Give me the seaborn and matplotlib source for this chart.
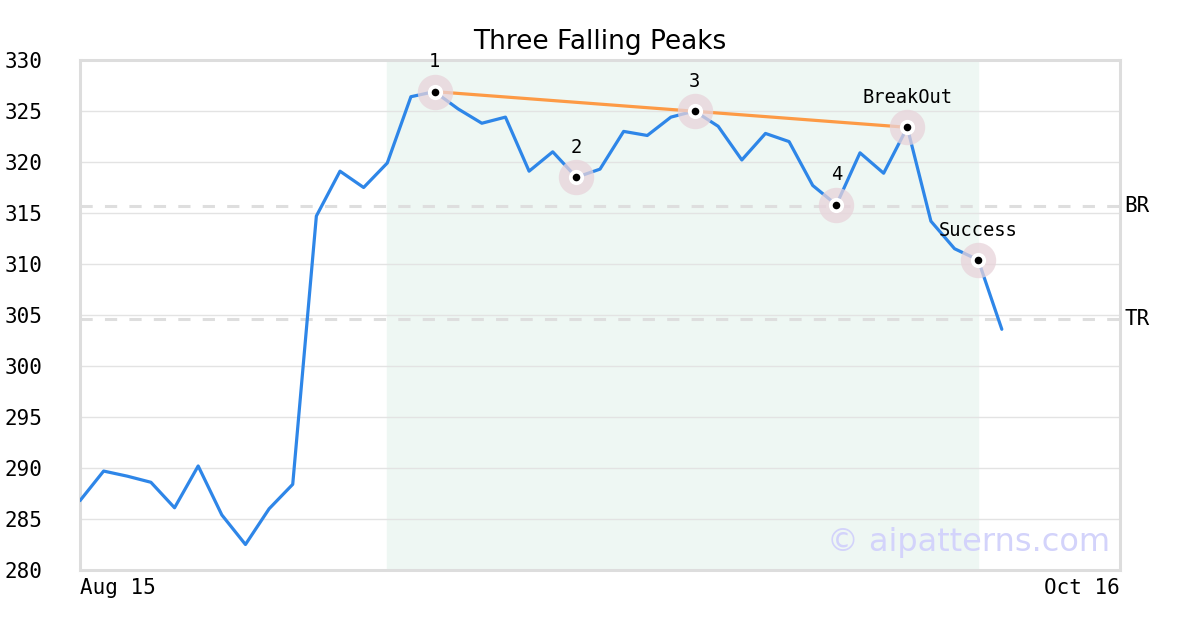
import seaborn as sns
import matplotlib.pyplot as plt
import pandas as pd

# closing prices, one per trading day (Aug 15 -> ...)
prices = [286.8, 289.7, 289.2, 288.6, 286.1, 290.2, 285.4, 282.5, 286.0, 288.4,
          314.7, 319.1, 317.5, 319.9, 326.4, 326.9, 325.2, 323.8, 324.4, 319.1,
          321.0, 318.5, 319.3, 323.0, 322.6, 324.4, 325.0, 323.5, 320.2, 322.8,
          322.0, 317.7, 315.8, 320.9, 318.9, 323.4, 314.2, 311.5, 310.4, 303.6]
days = list(range(len(prices)))

# pattern points
point_idx = [15, 21, 26, 32, 35, 38]
point_labels = ["1", "2", "3", "4", "BreakOut", "Success"]
peak_line_idx = [15, 35]

br_level = 315.7
tr_level = 304.6
zone_start, zone_end = 13, 38

x_ticks = [0, 44]
x_ticklabels = ["Aug 15", "Oct 16"]
y_ticks = [280, 285, 290, 295, 300, 305, 310, 315, 320, 325, 330]

df = pd.DataFrame({"day": days, "price": prices})
pts = df.iloc[point_idx].copy()
pts["label"] = point_labels
peak = df.iloc[peak_line_idx]

sns.set_theme(style="white")
plt.rcParams['font.family'] = ['DejaVu Sans']
plt.rcParams['text.color'] = 'black'
mono = 'DejaVu Sans Mono'

fig = plt.figure(figsize=(12, 6.3), dpi=100)
ax = fig.add_axes([80 / 1200, 60 / 630, 1040 / 1200, 510 / 630])

ax.axvspan(zone_start, zone_end, color="#eef7f3", zorder=0)
for y in y_ticks:
    ax.axhline(y, color="#e3e3e3", lw=1, zorder=1)
for lvl, name in [(br_level, "BR"), (tr_level, "TR")]:
    ax.axhline(lvl, color="#dedede", lw=2.2, ls=(0, (4, 4)), zorder=1)
    ax.text(44.2, lvl, name, fontsize=15, family=mono, va="center", ha="left")

sns.lineplot(data=df, x="day", y="price", color="#2e86e8", lw=2.3, ax=ax, zorder=3)
sns.lineplot(data=peak, x="day", y="price", color="#fd9a45", lw=2.3, ax=ax, zorder=4)

ax.scatter(pts["day"], pts["price"], s=650, color="#e8d3da", alpha=0.75, zorder=5, lw=0)
ax.scatter(pts["day"], pts["price"], s=120, color="white", zorder=6, lw=0)
ax.scatter(pts["day"], pts["price"], s=30, color="black", zorder=7, lw=0)
for _, r in pts.iterrows():
    ax.text(r["day"], r["price"] + 2.0, r["label"], fontsize=13.5, family=mono,
            ha="center", va="bottom", zorder=8)

ax.text(43.6, 282.7, "© aipatterns.com", fontsize=23, color="#d3d3fb",
        ha="right", va="center", zorder=2)

ax.set_xlim(0, 44)
ax.set_ylim(280, 330)
ax.set_xticks(x_ticks)
ax.set_xticklabels(x_ticklabels, family=mono, fontsize=15, color="black")
ax.get_xticklabels()[0].set_ha("left")
ax.get_xticklabels()[1].set_ha("right")
ax.set_yticks(y_ticks)
ax.set_yticklabels([str(v) for v in y_ticks], family=mono, fontsize=15,
                   ha="left", color="black")
ax.tick_params(axis="y", pad=54, length=0)
ax.tick_params(axis="x", pad=6, length=0)
ax.set_xlabel("")
ax.set_ylabel("")
for s in ax.spines.values():
    s.set_color("#dddddd")
    s.set_linewidth(2.2)
ax.set_title("Three Falling Peaks", fontsize=19, pad=8, color="black")

fig.savefig("out.png", dpi=100)
